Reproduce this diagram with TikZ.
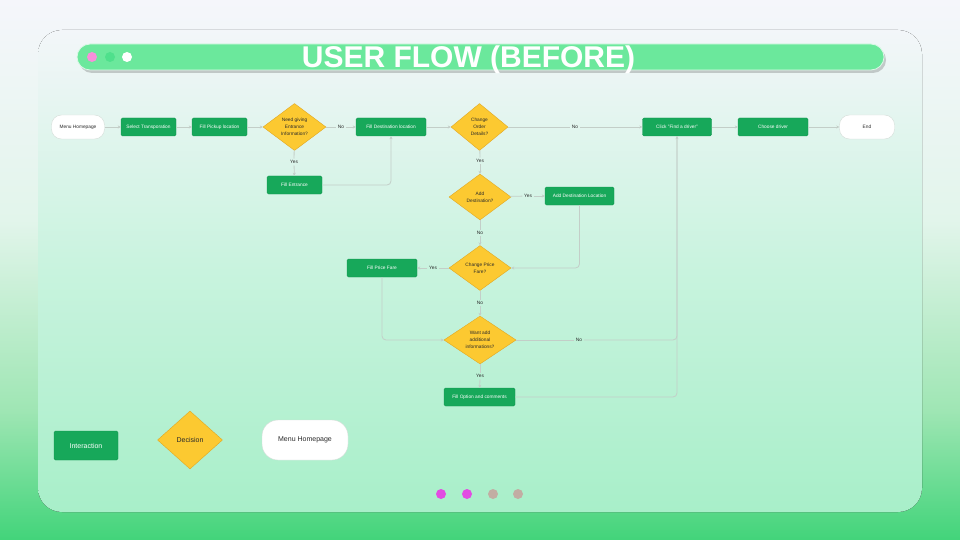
\documentclass[tikz,border=0pt]{standalone}
\usepackage{fontspec}
\setmainfont{Liberation Sans}
\usetikzlibrary{shapes.geometric,arrows.meta,positioning}

\definecolor{actgreen}{HTML}{17A85A}
\definecolor{actedge}{HTML}{12964F}
\definecolor{decyellow}{HTML}{FCC931}
\definecolor{decedge}{HTML}{E2A722}
\definecolor{termedge}{HTML}{D5DDD8}
\definecolor{flowgray}{HTML}{C3CEC8}
\definecolor{textdark}{HTML}{2A2A2A}
\definecolor{headgreen}{HTML}{6BE89C}
\definecolor{dotpink}{HTML}{F790DA}
\definecolor{dotgreen}{HTML}{4FE08C}
\definecolor{pagepink}{HTML}{E24CE2}
\definecolor{pagetan}{HTML}{C2ADA3}
\definecolor{bgtop}{HTML}{F5F6FB}
\definecolor{bgmid}{HTML}{E2F5EB}
\definecolor{bglow}{HTML}{9FE6B4}
\definecolor{bgbot}{HTML}{42D47A}
\definecolor{cardtop}{HTML}{F3F6F9}
\definecolor{cardmid}{HTML}{C8F3DE}
\definecolor{cardbot}{HTML}{A8EFC9}

\pgfdeclareverticalshading{cardshade}{100bp}{color(0bp)=(cardbot); color(25bp)=(cardbot);
  color(50bp)=(cardmid); color(75bp)=(cardtop); color(100bp)=(cardtop)}

\begin{document}
\begin{tikzpicture}[x=1pt,y=-1pt]

      % page and card
      \useasboundingbox (0,0) rectangle (960,540);
      \fill[top color=bgtop, bottom color=bgmid] (0,0) rectangle (960,220);
      \fill[top color=bgmid, bottom color=bglow] (0,220) rectangle (960,410);
      \fill[top color=bglow, bottom color=bgbot] (0,410) rectangle (960,540);
      \fill[rounded corners=24pt, shading=cardshade] (38,30) rectangle (922,512);

      % header bar
      \fill[rounded corners=13pt, black, opacity=.18] (79,47) rectangle (886,73);
      \draw[rounded corners=13pt, fill=headgreen, draw=white!75!headgreen, line width=.8pt] (77,44) rectangle (884,70);
      \fill[dotpink]  (92,57)  circle (5);
      \fill[dotgreen] (110,57) circle (5);
      \fill[white]    (127,57) circle (5);
      \node[anchor=base, text=white, font=\bfseries\fontsize{30}{30}\selectfont] (title) at (468.5,67.5) {USER FLOW (BEFORE)};

      \begin{scope}[every node/.style={rectangle, rounded corners=10pt, fill=white, draw=termedge,
          text=textdark, minimum height=24pt, font=\fontsize{4.8}{6}\selectfont}]
        \node[minimum width=53pt] (menu) at (78,127)  {Menu Homepage};
        \node[minimum width=55pt] (end)  at (867,127) {End};
      \end{scope}

      \begin{scope}[every node/.style={rectangle, rounded corners=1.5pt, fill=actgreen, draw=actedge,
          text=white, minimum height=18pt, inner sep=1pt, font=\fontsize{4.8}{6}\selectfont}]
        \node[minimum width=55pt] (select)     at (148.5,127) {Select Transporation};
        \node[minimum width=55pt] (pickup)     at (219.5,127) {Fill Pickup location};
        \node[minimum width=70pt] (filldest)   at (391,127)   {Fill Destination location};
        \node[minimum width=69pt] (finddrv)    at (677,127)   {Click ''Find a driver''};
        \node[minimum width=70pt] (choose)     at (773,127)   {Choose driver};
        \node[minimum width=55pt] (fillent)    at (294.5,185) {Fill Entrance};
        \node[minimum width=69pt] (adddestloc) at (579.5,196) {Add Destination Location};
        \node[minimum width=70pt] (fillprice)  at (382,268)   {Fill Price Fare};
        \node[minimum width=71pt] (fillopt)    at (479.5,397) {Fill Option and comments};
      \end{scope}

      \begin{scope}[every node/.style={diamond, fill=decyellow, draw=decedge, text=textdark,
          inner sep=0pt, align=center, font=\fontsize{4.8}{7}\selectfont}]
        \node[minimum width=63pt, minimum height=47pt] (needent)     at (294.5,127) {Need giving\\Entrance\\Information?};
        \node[minimum width=57pt, minimum height=47pt] (changeord)   at (479.5,127) {Change\\Order\\Details?};
        \node[minimum width=62pt, minimum height=46pt] (adddest)     at (480,197)   {Add\\Destination?};
        \node[minimum width=62pt, minimum height=45pt] (changeprice) at (480,268)   {Change Price\\Fare?};
        \node[minimum width=72pt, minimum height=48pt] (wantadd)     at (480,340)   {Want add\\additional\\informations?};
      \end{scope}

      \begin{scope}[every node/.style={inner sep=1.5pt, text=textdark, font=\fontsize{4.8}{6}\selectfont}]
        \node (no1)  at (341,127) {No};
        \node (no2)  at (575,127) {No};
        \node (yes1) at (294,162) {Yes};
        \node (yes2) at (480,161) {Yes};
        \node (yes3) at (528,196) {Yes};
        \node (no3)  at (480,233) {No};
        \node (yes4) at (433,268) {Yes};
        \node (no4)  at (480,303) {No};
        \node (no5)  at (579,340) {No};
        \node (yes5) at (480,376) {Yes};
      \end{scope}

      \begin{scope}[every path/.style={draw=flowgray, line width=.8pt, rounded corners=4pt},
          every edge/.style={draw, -{Stealth[length=3pt,width=3pt]}}]
        \path (menu)      edge (select);
        \path (select)    edge (pickup);
        \path (pickup)    edge (needent);
        \path (needent)   edge[-] (no1);
        \path (no1)       edge (filldest);
        \path (filldest)  edge (changeord);
        \path (changeord) edge[-] (no2);
        \path (no2)       edge (finddrv);
        \path (finddrv)   edge (choose);
        \path (choose)    edge (end);
        \path (needent)   edge[-] (yes1);
        \path (yes1)      edge (fillent);
        \path (changeord) edge[-] (yes2);
        \path (yes2)      edge (adddest);
        \path (adddest)   edge[-] (yes3);
        \path (yes3)      edge (adddestloc);
        \path (adddest)   edge[-] (no3);
        \path (no3)       edge (changeprice);
        \path (changeprice) edge[-] (yes4);
        \path (yes4)      edge (fillprice);
        \path (changeprice) edge[-] (no4);
        \path (no4)       edge (wantadd);
        \path (wantadd)   edge[-] (no5);
        \path (wantadd)   edge[-] (yes5);
        \path (yes5)      edge (fillopt);
        \draw[-{Stealth[length=3pt,width=3pt]}] (fillent.east) -| (filldest.south);
        \draw[-{Stealth[length=3pt,width=3pt]}] (adddestloc.south) |- (changeprice.east);
        \draw[-{Stealth[length=3pt,width=3pt]}] (fillprice.south) |- (wantadd.west);
        \draw (no5.east) -| (finddrv.south);
        \draw[-{Stealth[length=3pt,width=3pt]}] (fillopt.east) -| (finddrv.south);
      \end{scope}

      % legend
      \node[rectangle, rounded corners=1.5pt, fill=actgreen, draw=actedge, text=white,
        minimum width=64pt, minimum height=29pt, font=\fontsize{7}{8}\selectfont] (keyact) at (86,445.5) {Interaction};
      \node[diamond, fill=decyellow, draw=decedge, text=textdark, inner sep=0pt,
        minimum width=65pt, minimum height=58pt, font=\fontsize{7}{8}\selectfont] (keydec) at (190,440) {Decision};
      \node[rectangle, rounded corners=16pt, fill=white, draw=termedge, text=textdark,
        minimum width=86pt, minimum height=40pt, font=\fontsize{7}{8}\selectfont] (keyterm) at (305,440) {Menu Homepage};

      % page dots
      \fill[pagepink] (441,494) circle (5);
      \fill[pagepink] (467,494) circle (5);
      \fill[pagetan]  (493,494) circle (5);
      \fill[pagetan]  (518,494) circle (5);

    \end{tikzpicture}
\end{document}
